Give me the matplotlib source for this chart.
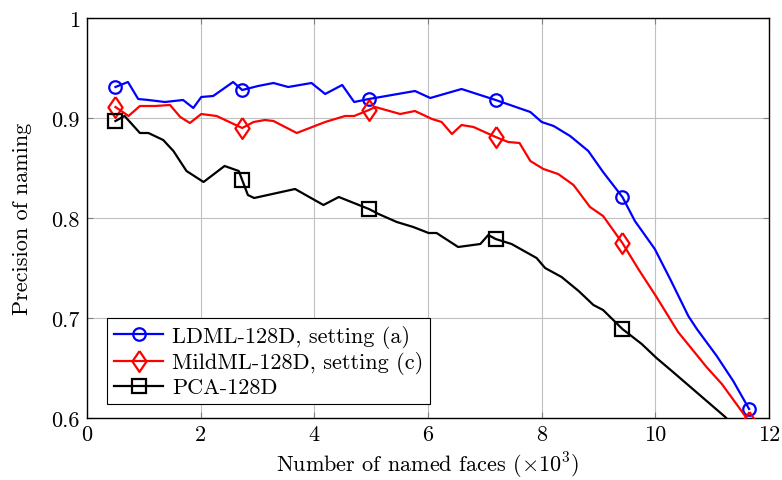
import numpy as np
import matplotlib
matplotlib.use("Agg")
from matplotlib import pyplot as plt

plt.rcParams['font.family'] = 'cmr10'
plt.rcParams['mathtext.fontset'] = 'cm'
plt.rcParams['axes.formatter.use_mathtext'] = True

# data (x in thousands of named faces)
ldml_x = [0.50, 0.72, 0.90, 1.08, 1.37, 1.69, 1.87, 2.01, 2.22, 2.57, 2.73, 3.01, 3.28, 3.54,
          3.95, 4.19, 4.49, 4.70, 4.96, 5.77, 6.04, 6.59, 7.19, 7.80, 8.00, 8.21, 8.50, 8.82,
          9.08, 9.42, 9.64, 9.99, 10.26, 10.58, 10.73, 11.08, 11.37, 11.65]
ldml_y = [0.931, 0.936, 0.919, 0.918, 0.916, 0.918, 0.910, 0.921, 0.922, 0.936, 0.928, 0.932,
          0.935, 0.931, 0.935, 0.924, 0.933, 0.916, 0.919, 0.927, 0.920, 0.929, 0.918, 0.906,
          0.896, 0.892, 0.882, 0.867, 0.846, 0.821, 0.797, 0.769, 0.739, 0.702, 0.689, 0.662,
          0.637, 0.609]

mild_x = [0.50, 0.73, 0.93, 1.20, 1.46, 1.64, 1.81, 2.01, 2.28, 2.73, 2.93, 3.13, 3.28, 3.69,
          4.19, 4.54, 4.70, 4.96, 5.07, 5.51, 5.77, 6.07, 6.24, 6.42, 6.59, 6.80, 7.19, 7.41,
          7.61, 7.80, 8.03, 8.29, 8.56, 8.85, 9.08, 9.42, 9.70, 10.02, 10.40, 10.90, 11.17,
          11.58, 11.65]
mild_y = [0.911, 0.902, 0.912, 0.912, 0.913, 0.901, 0.895, 0.904, 0.902, 0.890, 0.896, 0.898,
          0.897, 0.885, 0.896, 0.902, 0.902, 0.908, 0.911, 0.904, 0.907, 0.899, 0.896, 0.884,
          0.893, 0.891, 0.881, 0.876, 0.875, 0.857, 0.849, 0.844, 0.833, 0.811, 0.802, 0.775,
          0.749, 0.721, 0.686, 0.651, 0.634, 0.602, 0.596]

pca_x = [0.50, 0.66, 0.93, 1.08, 1.34, 1.52, 1.75, 2.05, 2.42, 2.67, 2.73, 2.83, 2.94, 3.66,
         4.16, 4.43, 4.96, 5.13, 5.45, 5.74, 6.01, 6.15, 6.53, 6.92, 7.06, 7.19, 7.47, 7.91,
         8.06, 8.35, 8.65, 8.91, 9.08, 9.42, 9.76, 10.02, 10.29, 11.23, 11.65]
pca_y = [0.897, 0.902, 0.885, 0.885, 0.878, 0.867, 0.847, 0.836, 0.852, 0.847, 0.838, 0.823,
         0.820, 0.829, 0.813, 0.821, 0.809, 0.804, 0.796, 0.791, 0.785, 0.785, 0.771, 0.774,
         0.783, 0.779, 0.774, 0.760, 0.750, 0.741, 0.727, 0.713, 0.708, 0.689, 0.674, 0.660,
         0.647, 0.601, 0.575]

marker_x = [0.50, 2.73, 4.96, 7.19, 9.42, 11.65]

x_ticks = [0, 2, 4, 6, 8, 10, 12]
y_ticks = [0.6, 0.7, 0.8, 0.9, 1.0]
y_tick_labels = ['0.6', '0.7', '0.8', '0.9', '1']

# pgfplots style diamond, a bit narrower than tall
diamond = [(0, 1), (0.68, 0), (0, -1), (-0.68, 0), (0, 1)]

fig = plt.figure(figsize=(7.82, 4.81), dpi=100)
ax = fig.add_axes([0.1113, 0.1289, 0.8721, 0.8316])

series = [
    (ldml_x, ldml_y, 'blue', 'o', 9, 'LDML-128D, setting (a)'),
    (mild_x, mild_y, 'red', diamond, 15, 'MildML-128D, setting (c)'),
    (pca_x, pca_y, 'black', 's', 9.5, 'PCA-128D'),
]
for xs, ys, col, mk, ms, lab in series:
    idx = list(np.where(np.isin(np.round(xs, 2), marker_x))[0])
    ax.plot(xs, ys, color=col, lw=1.6, marker=mk, ms=ms, mfc='none', mew=1.6,
            markevery=idx, label=lab, zorder=3)

ax.set_xlim(0, 12)
ax.set_ylim(0.6, 1.0)
ax.set_xticks(x_ticks)
ax.set_xticklabels([str(t) for t in x_ticks])
ax.set_yticks(y_ticks)
ax.set_yticklabels(y_tick_labels)
ax.grid(True, color='#c0c0c0', lw=0.8)
ax.set_axisbelow(True)
ax.tick_params(direction='in', top=True, right=True, labelsize=16, length=4,
               color='#808080', pad=5)
for s in ax.spines.values():
    s.set_linewidth(1.0)

ax.set_xlabel(r'Number of named faces ($\times 10^3$)', fontsize=16, labelpad=4)
ax.set_ylabel('Precision of naming', fontsize=16, labelpad=14)

leg = ax.legend(loc='lower left', bbox_to_anchor=(0.03, 0.035), fontsize=16,
                fancybox=False, edgecolor='black', framealpha=1, handlelength=2.2,
                borderpad=0.3, labelspacing=0.15, handletextpad=0.4, borderaxespad=0)
leg.get_frame().set_linewidth(0.8)

fig.savefig('out.png', dpi=100)
